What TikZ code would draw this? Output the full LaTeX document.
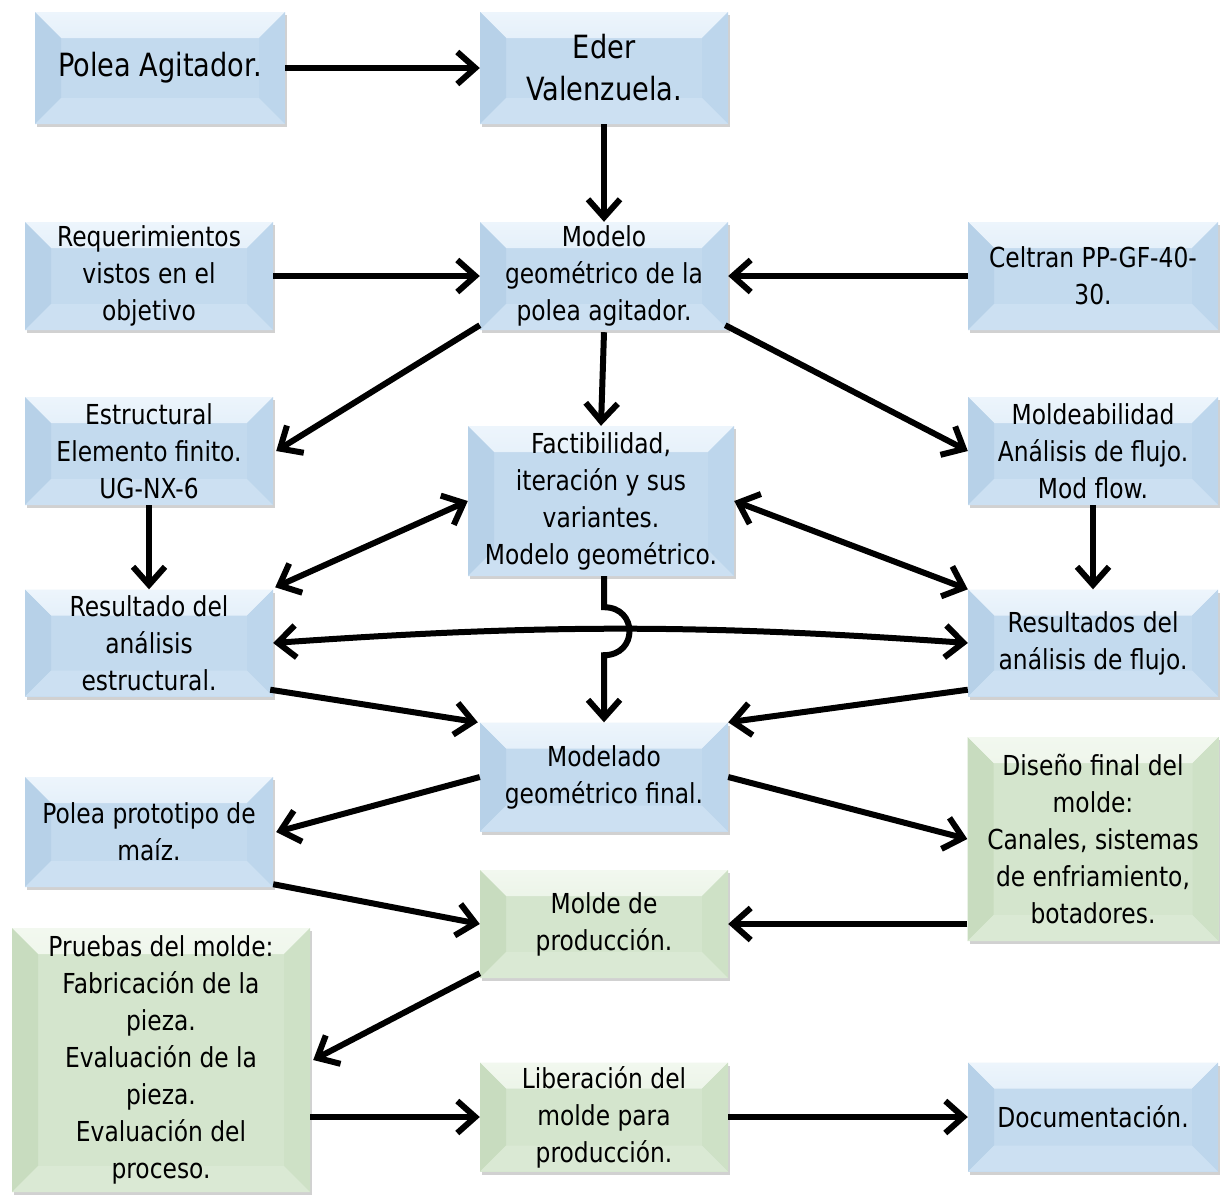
\documentclass[tikz,border=0pt]{standalone}
\usepackage{fontspec}
\setmainfont[FakeStretch=0.85]{DejaVu Sans}
\usetikzlibrary{calc,shadows,arrows.meta}
\definecolor{bC}{HTML}{C3DAEE}
\definecolor{bTopA}{HTML}{EDF5FC}
\definecolor{bTopB}{HTML}{CBE0F2}
\definecolor{bLeft}{HTML}{B7D1E8}
\definecolor{bRight}{HTML}{BDD6EC}
\definecolor{bBot}{HTML}{CCE0F2}
\definecolor{gC}{HTML}{D4E5CD}
\definecolor{gTopA}{HTML}{F2F8EF}
\definecolor{gTopB}{HTML}{DAE9D4}
\definecolor{gLeft}{HTML}{C8DCBF}
\definecolor{gRight}{HTML}{CEE1C6}
\definecolor{gBot}{HTML}{DAE9D4}
\newcommand\bevelpic[5]{%
  \shade[top color=#1, bottom color=#2] (path picture bounding box.north west) -- (path picture bounding box.north east)
    -- ($(path picture bounding box.north east)+(-26pt,-26pt)$) -- ($(path picture bounding box.north west)+(26pt,-26pt)$) -- cycle;
  \fill[#3] (path picture bounding box.north west) -- (path picture bounding box.south west)
    -- ($(path picture bounding box.south west)+(26pt,26pt)$) -- ($(path picture bounding box.north west)+(26pt,-26pt)$) -- cycle;
  \fill[#4] (path picture bounding box.north east) -- (path picture bounding box.south east)
    -- ($(path picture bounding box.south east)+(-26pt,26pt)$) -- ($(path picture bounding box.north east)+(-26pt,-26pt)$) -- cycle;
  \fill[#5] (path picture bounding box.south west) -- (path picture bounding box.south east)
    -- ($(path picture bounding box.south east)+(-26pt,26pt)$) -- ($(path picture bounding box.south west)+(26pt,26pt)$) -- cycle;
}
\tikzset{
  basebox/.style={inner sep=0pt, align=center, text=black,
    font=\fontsize{27.5}{37}\selectfont,
    drop shadow={shadow xshift=2pt, shadow yshift=-3pt, opacity=0.4, fill=black!45}},
  bluebox/.style={basebox, fill=bC,
    path picture={\bevelpic{bTopA}{bTopB}{bLeft}{bRight}{bBot}}},
  greenbox/.style={basebox, fill=gC,
    path picture={\bevelpic{gTopA}{gTopB}{gLeft}{gRight}{gBot}}},
  bigtext/.style={font=\fontsize{32}{42}\selectfont},
  arr/.style={line width=6pt, -{Straight Barb[length=18pt,width=32pt]}},
  darr/.style={line width=6pt, {Straight Barb[length=18pt,width=32pt]}-{Straight Barb[length=18pt,width=32pt]}},
}
\begin{document}
\begin{tikzpicture}[x=1pt,y=-1pt]
\fill[white] (0,0) rectangle (1220,1195);
\useasboundingbox (0,0) rectangle (1220,1195);

\node[bluebox,bigtext,minimum width=250pt,minimum height=112pt] (pa) at (160,68) {Polea Agitador.};
\node[bluebox,bigtext,minimum width=248pt,minimum height=112pt] (ev) at (604,68) {Eder\\Valenzuela.};
\node[bluebox,minimum width=248pt,minimum height=108pt] (req) at (149,276) {Requerimientos\\vistos en el\\objetivo};
\node[bluebox,minimum width=248pt,minimum height=108pt] (mod) at (604,276) {Modelo\\geométrico de la\\polea agitador.};
\node[bluebox,minimum width=250pt,minimum height=108pt] (cel) at (1093,276) {Celtran PP-GF-40-\\30.};
\node[bluebox,minimum width=248pt,minimum height=108pt] (est) at (149,451) {Estructural\\Elemento finito.\\UG-NX-6};
\node[bluebox,minimum width=266pt,minimum height=150pt] (fac) at (601,501) {Factibilidad,\\iteración y sus\\variantes.\\Modelo geométrico.};
\node[bluebox,minimum width=250pt,minimum height=108pt] (mol) at (1093,451) {Moldeabilidad\\Análisis de flujo.\\Mod flow.};
\node[bluebox,minimum width=248pt,minimum height=107pt] (res) at (149,643) {Resultado del\\análisis\\estructural.};
\node[bluebox,minimum width=250pt,minimum height=107pt] (rfl) at (1093,643) {Resultados del\\análisis de flujo.};
\node[bluebox,minimum width=248pt,minimum height=109pt] (mfin) at (604,777) {Modelado\\geométrico final.};
\node[bluebox,minimum width=248pt,minimum height=110pt] (ppm) at (149,832) {Polea prototipo de\\maíz.};
\node[greenbox,minimum width=251pt,minimum height=204pt] (dis) at (1093,839) {Diseño final del\\molde:\\Canales, sistemas\\de enfriamiento,\\botadores.};
\node[greenbox,minimum width=248pt,minimum height=108pt] (mprod) at (604,924) {Molde de\\producción.};
\node[greenbox,minimum width=298pt,minimum height=264pt] (pru) at (161,1060) {Pruebas del molde:\\Fabricación de la\\pieza.\\Evaluación de la\\pieza.\\Evaluación del\\proceso.};
\node[greenbox,minimum width=248pt,minimum height=109pt] (lib) at (604,1117) {Liberación del\\molde para\\producción.};
\node[bluebox,minimum width=250pt,minimum height=109pt] (doc) at (1093,1117) {Documentación.};

\draw[arr] (pa.east) -- (ev.west);
\draw[arr] (ev.south) -- (mod.north);
\draw[arr] (req.east) -- (mod.west);
\draw[arr] (cel.west) -- (mod.east);
\draw[arr] ($(mod.south west)+(0,-5)$) -- ($(est.east)+(3,0)$);
\draw[arr] ($(mod.south)+(0,2)$) -- (fac.north);
\draw[arr] ($(mod.south east)+(-3,-5)$) -- (mol.west);
\draw[arr] (est.south) -- (res.north);
\draw[arr] (mol.south) -- (rfl.north);
\draw[darr] ($(res.north east)+(2,-2)$) -- (fac.west);
\draw[darr] (fac.east) -- (rfl.north west);
\draw[darr] (res.east) to[bend left=4] (rfl.west);
\draw[arr] (fac.south -| mfin.north) -- ++(0,31) .. controls +(34,0) and +(34,0) .. ++(0,48) -- (mfin.north);
\draw[arr] ($(res.south east)+(-3,-7)$) -- ($(mfin.north west)+(-2,0)$);
\draw[arr] ($(rfl.south west)+(0,-7)$) -- (mfin.north east);
\draw[arr] (mfin.west) -- ($(ppm.east)+(3,0)$);
\draw[arr] (mfin.east) -- (dis.west);
\draw[arr] ($(ppm.south east)+(0,-3)$) -- (mprod.west);
\draw[arr] (dis.west |- mprod) -- (mprod.east);
\draw[arr] ($(mprod.south west)+(0,-5)$) -- ($(pru.east)+(3,0)$);
\draw[arr] (pru.east |- lib) -- (lib.west);
\draw[arr] (lib.east) -- (doc.west);
\end{tikzpicture}
\end{document}
